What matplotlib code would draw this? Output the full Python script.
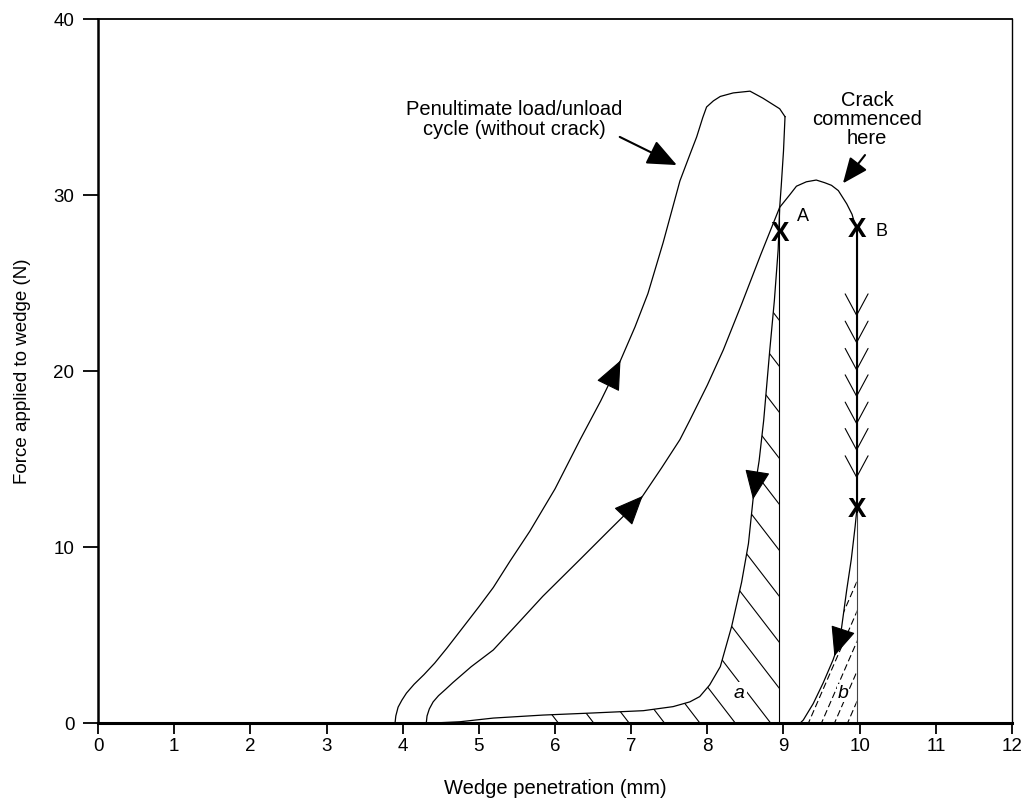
import numpy as np
import matplotlib
matplotlib.use('Agg')
import matplotlib.pyplot as plt
from matplotlib.patches import Polygon

plt.rcParams['font.family'] = ['Liberation Sans', 'DejaVu Sans']

# ---------------- data ----------------
# penultimate cycle, loading branch (mm, N)
penult_load_x = [3.90, 3.91, 3.94, 3.99, 4.05, 4.15, 4.28, 4.42, 4.58, 4.75, 5.00, 5.19, 5.41,
                 5.67, 6.00, 6.33, 6.60, 6.86, 7.05, 7.22, 7.42, 7.64, 7.78, 7.86, 7.94, 7.99,
                 8.08, 8.17, 8.34, 8.56, 8.73, 8.95, 9.02]
penult_load_y = [0.0, 0.4, 0.9, 1.3, 1.7, 2.2, 2.75, 3.4, 4.25, 5.2, 6.6, 7.7, 9.2,
                 10.9, 13.3, 16.1, 18.3, 20.6, 22.5, 24.4, 27.3, 30.8, 32.4, 33.3, 34.4, 35.0,
                 35.35, 35.6, 35.8, 35.9, 35.5, 34.9, 34.45]
# penultimate cycle, unloading branch
penult_unload_x = [9.02, 9.00, 8.97, 8.95, 8.93, 8.88, 8.82, 8.74, 8.68, 8.60, 8.54, 8.45, 8.32,
                   8.17, 8.03, 7.90, 7.77, 7.55, 7.16, 6.50, 5.84, 5.19, 4.75, 4.40]
penult_unload_y = [34.45, 32.5, 30.5, 29.3, 26.9, 24.0, 21.2, 17.2, 14.9, 12.7, 10.2, 8.0, 5.5,
                   3.2, 2.16, 1.5, 1.2, 0.93, 0.70, 0.57, 0.45, 0.28, 0.07, 0.0]
# last cycle, loading branch (crack starts)
final_load_x = [4.31, 4.32, 4.35, 4.40, 4.47, 4.56, 4.66, 4.78, 4.90, 5.19, 5.50, 5.84, 6.33,
                6.70, 7.12, 7.40, 7.64, 7.77, 8.00, 8.21, 8.45, 8.70, 8.95, 9.08, 9.17, 9.30,
                9.43, 9.54, 9.63, 9.72, 9.83, 9.90, 9.96]
final_load_y = [0.0, 0.4, 0.8, 1.2, 1.55, 1.9, 2.3, 2.75, 3.2, 4.15, 5.6, 7.2, 9.3,
                10.9, 12.7, 14.5, 16.1, 17.2, 19.2, 21.2, 23.8, 26.6, 29.3, 30.0, 30.5, 30.75,
                30.85, 30.7, 30.55, 30.25, 29.5, 28.9, 28.0]
# last cycle, unloading branch after the crack
final_unload_x = [9.96, 9.94, 9.89, 9.83, 9.74, 9.65, 9.52, 9.39, 9.26, 9.22]
final_unload_y = [12.0, 11.15, 9.3, 7.56, 4.7, 3.58, 2.27, 1.1, 0.17, 0.0]

# vertical lines
line_A_x, line_A_y = [8.94, 8.94], [29.3, 0.0]
crack_x, crack_y_top, crack_y_X, crack_y_bot = 9.96, 28.0, 12.0, 0.0

# X markers
marks_x = [8.95, 9.96, 9.96]
marks_y = [27.8, 28.0, 12.1]

# open arrows on the crack line (tip positions, N)
crack_arrow_y = [23.1, 21.55, 20.0, 18.5, 16.95, 15.45, 13.9]

# filled direction arrows (tip force values on each branch)
arrow_penult_load_y = 20.6
arrow_final_load_y = 12.9
arrow_penult_unload_y = 12.7
arrow_final_unload_y = 3.8

xticks = list(range(0, 13))
yticks = [0, 10, 20, 30, 40]

# ---------------- figure ----------------
fig = plt.figure(figsize=(10.23, 8.07), dpi=100)
ax = fig.add_axes([98 / 1023, 1 - 723 / 807, (1012 - 98) / 1023, (723 - 19) / 807])
ax.set_xlim(0, 12)
ax.set_ylim(0, 40)
ax.set_xticks(xticks)
ax.set_yticks(yticks)
ax.tick_params(axis='x', direction='out', length=8, width=1.3, pad=3, labelsize=13.5)
ax.tick_params(axis='y', direction='out', length=11, width=1.3, pad=6, labelsize=13.5)
ax.spines['left'].set_linewidth(1.8)
ax.spines['bottom'].set_linewidth(2.2)
ax.spines['top'].set_linewidth(1.3)
ax.spines['right'].set_linewidth(1.0)
ax.set_xlabel('Wedge penetration (mm)', fontsize=14.5, labelpad=17)
ax.set_ylabel('Force applied to wedge (N)', fontsize=13.5, labelpad=16)

lw = 0.9
ax.plot(penult_load_x, penult_load_y, color='k', lw=lw)
ax.plot(penult_unload_x, penult_unload_y, color='k', lw=lw)
ax.plot(final_load_x, final_load_y, color='k', lw=lw)
ax.plot(final_unload_x, final_unload_y, color='k', lw=lw)
ax.plot(line_A_x, line_A_y, color='k', lw=0.8)
ax.plot([crack_x, crack_x], [crack_y_top, crack_y_bot], color='#444444', lw=0.8)
ax.plot([crack_x, crack_x], [crack_y_top, crack_y_X], color='k', lw=1.5)

# pixel scale of the data axes
fig.canvas.draw()
p0 = ax.transData.transform((0, 0))
sx = ax.transData.transform((1, 0))[0] - p0[0]
sy = ax.transData.transform((0, 1))[1] - p0[1]


def hatch(poly, ax_x, ax_y, px_slope, px_vspacing, ks, **kw):
    patch = Polygon(poly, closed=True, facecolor='none', edgecolor='none')
    ax.add_patch(patch)
    m = px_slope * sx / sy
    dy = px_vspacing / sy
    xs = np.array([0.0, 12.0])
    for k in ks:
        y0 = ax_y + k * dy
        ln, = ax.plot(xs, y0 + m * (xs - ax_x), color='k', lw=0.8, **kw)
        ln.set_clip_path(patch)


# hatched area a
ux = np.array(penult_unload_x)
uy = np.array(penult_unload_y)
sel = (uy <= line_A_y[0]) & (ux >= 5.8)
poly_a = list(zip(ux[sel], uy[sel])) + [(ux[sel][-1], 0.0), (line_A_x[0], 0.0), (line_A_x[0], line_A_y[0])]
hatch(poly_a, line_A_x[0], 2.0, -1.3, 46, range(-20, 9))

# hatched area b
fx = np.array(final_unload_x)
fy = np.array(final_unload_y)
selb = fy <= 8.3
poly_b = list(zip(fx[selb], fy[selb])) + [(crack_x, 0.0), (crack_x, 8.3)]
hatch(poly_b, crack_x, 8.0, 2.3, 30, range(-12, 2), linestyle=(0, (6, 3)))

# labels inside hatched areas
ax.text(8.42, 1.7, 'a', style='italic', fontsize=14, ha='center', va='center',
        bbox=dict(facecolor='white', edgecolor='none', pad=1.5))
ax.text(9.78, 1.7, 'b', style='italic', fontsize=14, ha='center', va='center',
        bbox=dict(facecolor='white', edgecolor='none', pad=0.5))


def filled_arrow(xs, ys, y_tip, down):
    xs = np.asarray(xs)
    ys = np.asarray(ys)
    order = np.argsort(ys)
    x_tip = np.interp(y_tip, ys[order], xs[order])
    y_base = y_tip + (1.0 if down else -1.0)
    x_base = np.interp(y_base, ys[order], xs[order])
    ax.annotate('', xy=(x_tip, y_tip), xytext=(x_base, y_base),
                arrowprops=dict(arrowstyle='-|>,head_length=1.4,head_width=0.6',
                                mutation_scale=13.5, color='k', lw=0.8,
                                shrinkA=0, shrinkB=0))


n_up = int(np.argmax(penult_load_y)) + 1
filled_arrow(penult_load_x[:n_up], penult_load_y[:n_up], arrow_penult_load_y, False)
n_up2 = int(np.argmax(final_load_y)) + 1
filled_arrow(final_load_x[:n_up2], final_load_y[:n_up2], arrow_final_load_y, False)
filled_arrow(penult_unload_x[3:], penult_unload_y[3:], arrow_penult_unload_y, True)
filled_arrow(final_unload_x, final_unload_y, arrow_final_unload_y, True)

# open arrowheads along the crack line
for yt in crack_arrow_y:
    ax.annotate('', xy=(crack_x, yt), xytext=(crack_x, yt + 1.2),
                arrowprops=dict(arrowstyle='->,head_length=1.4,head_width=0.75',
                                mutation_scale=11, color='k', lw=0.8,
                                shrinkA=0, shrinkB=0))

# X marks
for mx, my in zip(marks_x, marks_y):
    ax.text(mx, my, 'X', fontsize=20, fontweight='bold', ha='center', va='center')
ax.text(9.26, 28.8, 'A', fontsize=13, ha='center', va='center')
ax.text(10.29, 27.9, 'B', fontsize=13, ha='center', va='center')

# annotations
ax.text(5.47, 34.3, 'Penultimate load/unload\ncycle (without crack)', fontsize=14.5,
        ha='center', va='center', linespacing=1.1)
ax.annotate('', xy=(7.6, 31.7), xytext=(6.85, 33.3),
            arrowprops=dict(arrowstyle='-|>,head_length=1.4,head_width=0.6',
                            mutation_scale=13, color='k', lw=1.5, shrinkA=0, shrinkB=0))
ax.text(10.1, 34.3, 'Crack\ncommenced\nhere', fontsize=14.5, ha='center', va='center',
        linespacing=1.0)
ax.annotate('', xy=(9.78, 30.66), xytext=(10.07, 32.27),
            arrowprops=dict(arrowstyle='-|>,head_length=1.3,head_width=0.55',
                            mutation_scale=12, color='k', lw=1.5, shrinkA=0, shrinkB=0))

fig.savefig('out.png', dpi=100)
